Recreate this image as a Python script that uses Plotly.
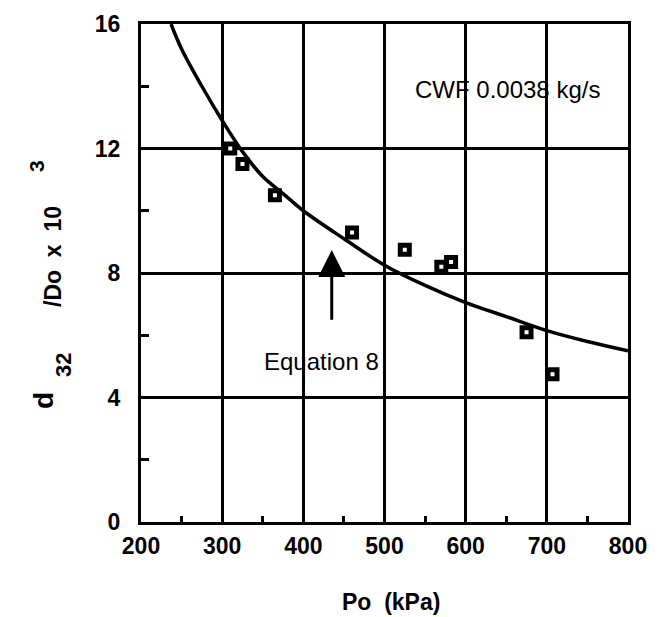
import plotly.graph_objects as go

# Data
pressure_kpa = [310, 325, 365, 460, 525, 570, 582, 675, 707]
d32_ratio = [12.0, 11.5, 10.5, 9.3, 8.75, 8.2, 8.35, 6.1, 4.75]

curve_p = [237, 250, 275, 300, 325, 350, 375, 400, 450, 500, 550, 600, 650, 700, 750, 800]
curve_d = [16.0, 15.2, 14.0, 12.9, 11.9, 11.1, 10.55, 10.0, 9.1, 8.25, 7.6, 7.05, 6.6, 6.15, 5.8, 5.5]

x_ticks = [200, 300, 400, 500, 600, 700, 800]
y_ticks = [0, 4, 8, 12, 16]

FONT = "Arial, 'Liberation Sans', Helvetica, sans-serif"

L, R, T, B = 133, 42, 16, 103
W, H = 662, 617
PLOT_BOTTOM = H - B

fig = go.Figure()
fig.add_trace(go.Scatter(x=curve_p, y=curve_d, mode="lines",
                         line=dict(color="black", width=3.5, shape="spline"),
                         showlegend=False, hoverinfo="skip"))
fig.add_trace(go.Scatter(x=pressure_kpa, y=d32_ratio, mode="markers",
                         marker=dict(symbol="square", size=9, color="white",
                                     line=dict(color="black", width=5)),
                         showlegend=False))

fig.add_annotation(x=652, y=13.9, text="CWF 0.0038 kg/s", showarrow=False,
                   font=dict(family=FONT, size=24, color="black"))
fig.add_annotation(x=422, y=5.15, text="Equation 8", showarrow=False,
                   font=dict(family=FONT, size=24, color="black"))
fig.add_annotation(x=435, y=8.74, ax=435, ay=6.45, axref="x", ayref="y",
                   xref="x", yref="y", text="", showarrow=True,
                   arrowhead=2, arrowsize=1.8, arrowwidth=3, arrowcolor="black")

# axis titles as positioned text (pixel centres)
def side_text(text, cx, cy, size, angle=0):
    fig.add_annotation(xref="paper", yref="paper", x=0, y=0,
                       xshift=cx - L, yshift=PLOT_BOTTOM - cy,
                       xanchor="center", yanchor="middle", showarrow=False,
                       textangle=angle, text=text,
                       font=dict(family=FONT, size=size, color="black"))

side_text("<b>Po&nbsp;&nbsp;(kPa)</b>", 383, 594, 23)
side_text("<b>d</b>", 35, 393, 28, -90)
side_text("<b>32</b>", 55, 357, 22, -90)
side_text("<b>/Do&nbsp;&nbsp;x&nbsp;&nbsp;10</b>", 45, 249, 23, -90)
side_text("<b>3</b>", 28, 158, 21, -90)

axis_common = dict(showline=True, linecolor="black", linewidth=3, mirror=True,
                   showgrid=True, gridcolor="black", gridwidth=2.5,
                   zeroline=False, ticks="", automargin=False,
                   tickfont=dict(family=FONT, size=23, color="black"))

fig.update_xaxes(range=[200, 800], tickvals=x_ticks,
                 ticktext=[f"<b>{v}</b>" for v in x_ticks],
                 ticklabelstandoff=1,
                 minor=dict(ticks="inside", tick0=250, dtick=100, ticklen=6, tickwidth=3,
                            tickcolor="black", showgrid=False),
                 **axis_common)
fig.update_yaxes(range=[0, 16], tickvals=y_ticks,
                 ticktext=[f"<b>{v}</b>" for v in y_ticks],
                 ticklabelstandoff=13,
                 minor=dict(ticks="inside", tick0=2, dtick=4, ticklen=8, tickwidth=3,
                            tickcolor="black", showgrid=False),
                 **axis_common)

fig.update_layout(width=W, height=H, margin=dict(l=L, r=R, t=T, b=B),
                  plot_bgcolor="white", paper_bgcolor="white")

fig.write_html("out.html")
